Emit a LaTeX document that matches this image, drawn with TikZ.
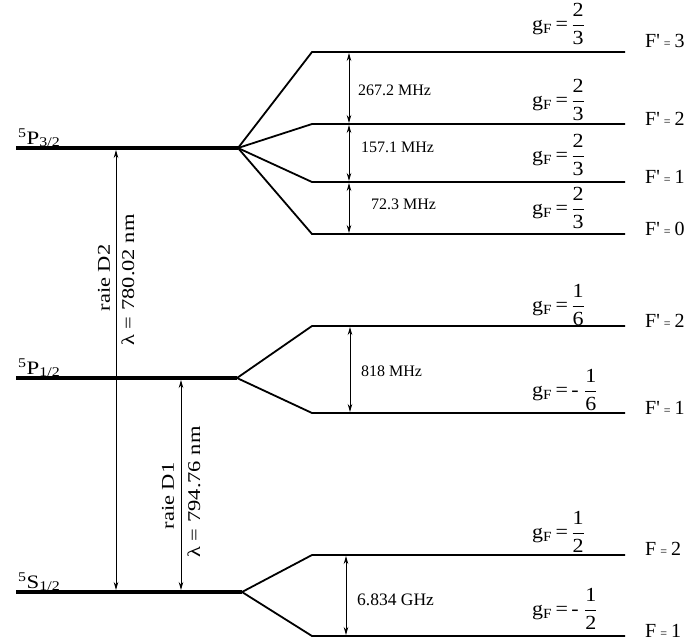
\documentclass[tikz,border=0pt]{standalone}
\usepackage{amsmath}
\usepackage{fontspec}
\setmainfont{Liberation Serif}
\newfontfamily\lvlfont[FakeStretch=1.2]{Liberation Serif}
\newfontfamily\raiefont[FakeStretch=1.25]{Liberation Serif}
\newfontfamily\gfont[FakeStretch=1.1]{Liberation Serif}
\usetikzlibrary{arrows.meta}

\tikzset{
  level/.style={line width=4pt},
  fine/.style={line width=1.8pt},
  freq/.style={line width=0.8pt, shorten <=1pt, shorten >=1pt,
    {Stealth[length=8pt,width=4.5pt]}-{Stealth[length=8pt,width=4.5pt]}},
  statelbl/.style={anchor=base west, inner sep=0pt, font=\fontsize{19}{21}\lvlfont},
  flbl/.style={anchor=base west, inner sep=0pt, font=\fontsize{20}{22}\selectfont},
  glbl/.style={anchor=west, inner sep=0pt, font=\fontsize{20}{22}\gfont},
  splitlbl/.style={anchor=west, inner sep=0pt, font=\fontsize{16}{18}\selectfont},
  raie/.style={rotate=90, inner sep=0pt, font=\fontsize{18}{20}\raiefont}
}
\newcommand{\gF}[1]{g\textsubscript{F}\,=\,#1}
\newcommand{\Fq}[2]{F#1\hspace{4pt}{\fontsize{12}{12}\selectfont=}\hspace{4pt}#2}

\begin{document}
\begin{tikzpicture}[x=1pt, y=-1pt]
\useasboundingbox (0,0) rectangle (694,641);

% fine structure levels
\coordinate (P32l) at (16,148);  \coordinate (P32) at (238,148);
\coordinate (P12l) at (16,378);  \coordinate (P12) at (237,378);
\coordinate (S12l) at (16,592);  \coordinate (S12) at (242,592);
\draw[level] (P32l) -- (P32);
\draw[level] (P12l) -- (P12);
\draw[level] (S12l) -- (S12);
\node[statelbl] (nP32) at (18,144) {\textsuperscript{5}P\textsubscript{3/2}};
\node[statelbl] (nP12) at (18,374) {\textsuperscript{5}P\textsubscript{1/2}};
\node[statelbl] (nS12) at (18,588) {\textsuperscript{5}S\textsubscript{1/2}};

% hyperfine levels of 5P3/2
\coordinate (A3) at (312,52);  \coordinate (A3e) at (625,52);
\coordinate (A2) at (312,124); \coordinate (A2e) at (625,124);
\coordinate (A1) at (312,182); \coordinate (A1e) at (625,182);
\coordinate (A0) at (312,234); \coordinate (A0e) at (625,234);
\draw[fine] (P32) -- (A3) -- (A3e);
\draw[fine] (P32) -- (A2) -- (A2e);
\draw[fine] (P32) -- (A1) -- (A1e);
\draw[fine] (P32) -- (A0) -- (A0e);

% hyperfine levels of 5P1/2
\coordinate (B2) at (312,326); \coordinate (B2e) at (625,326);
\coordinate (B1) at (312,413); \coordinate (B1e) at (625,413);
\draw[fine] (P12) -- (B2) -- (B2e);
\draw[fine] (P12) -- (B1) -- (B1e);

% hyperfine levels of 5S1/2
\coordinate (C2) at (312,555); \coordinate (C2e) at (625,555);
\coordinate (C1) at (312,636); \coordinate (C1e) at (625,636);
\draw[fine] (S12) -- (C2) -- (C2e);
\draw[fine] (S12) -- (C1) -- (C1e);

% splittings
\coordinate (ax) at (349,0);
\coordinate (bx) at (350,0);
\coordinate (cx) at (346,0);
\draw[freq] (ax |- A3) -- (ax |- A2);
\draw[freq] (ax |- A2) -- (ax |- A1);
\draw[freq] (ax |- A1) -- (ax |- A0);
\draw[freq] (bx |- B2) -- (bx |- B1);
\draw[freq] (cx |- C2) -- (cx |- C1);
\node[splitlbl] (s1) at (358,90) {267.2 MHz};
\node[splitlbl] (s2) at (361,147) {157.1 MHz};
\node[splitlbl] (s3) at (371,204) {72.3 MHz};
\node[splitlbl] (s4) at (361,371) {818 MHz};
\node[splitlbl, font=\fontsize{17.5}{19}\selectfont] (s5) at (357,600) {6.834 GHz};

% optical lines
\coordinate (d2) at (116,0);
\coordinate (d1) at (181,0);
\draw[freq, shorten <=2pt, shorten >=2pt] (d2 |- S12) -- (d2 |- P32);
\draw[freq, shorten <=2pt, shorten >=2pt] (d1 |- S12) -- (d1 |- P12);
\node[raie] (rD2) at (104,278) {raie D2};
\node[raie] (lD2) at (128,280) {λ = 780.02 nm};
\node[raie] (rD1) at (168,496) {raie D1};
\node[raie] (lD1) at (194,492) {λ = 794.76 nm};

% Lande factors
\node[glbl] (g3) at (532,24)  {\gF{$\dfrac{\text{2}}{\text{3}}$}};
\node[glbl] (g2) at (532,100) {\gF{$\dfrac{\text{2}}{\text{3}}$}};
\node[glbl] (g1) at (532,155) {\gF{$\dfrac{\text{2}}{\text{3}}$}};
\node[glbl] (g0) at (532,208) {\gF{$\dfrac{\text{2}}{\text{3}}$}};
\node[glbl] (h2) at (532,305) {\gF{$\dfrac{\text{1}}{\text{6}}$}};
\node[glbl] (h1) at (532,390) {\gF{- $\dfrac{\text{1}}{\text{6}}$}};
\node[glbl] (k2) at (532,532) {\gF{$\dfrac{\text{1}}{\text{2}}$}};
\node[glbl] (k1) at (532,609) {\gF{- $\dfrac{\text{1}}{\text{2}}$}};

% F labels
\node[flbl] (f3) at (645,47)  {\Fq{\textquotesingle}{3}};
\node[flbl] (f2) at (645,125) {\Fq{\textquotesingle}{2}};
\node[flbl] (f1) at (645,183) {\Fq{\textquotesingle}{1}};
\node[flbl] (f0) at (645,235) {\Fq{\textquotesingle}{0}};
\node[flbl] (e2) at (645,327) {\Fq{\textquotesingle}{2}};
\node[flbl] (e1) at (645,414) {\Fq{\textquotesingle}{1}};
\node[flbl] (q2) at (645,555) {\Fq{}{2}};
\node[flbl] (q1) at (645,637) {\Fq{}{1}};
\end{tikzpicture}
\end{document}
